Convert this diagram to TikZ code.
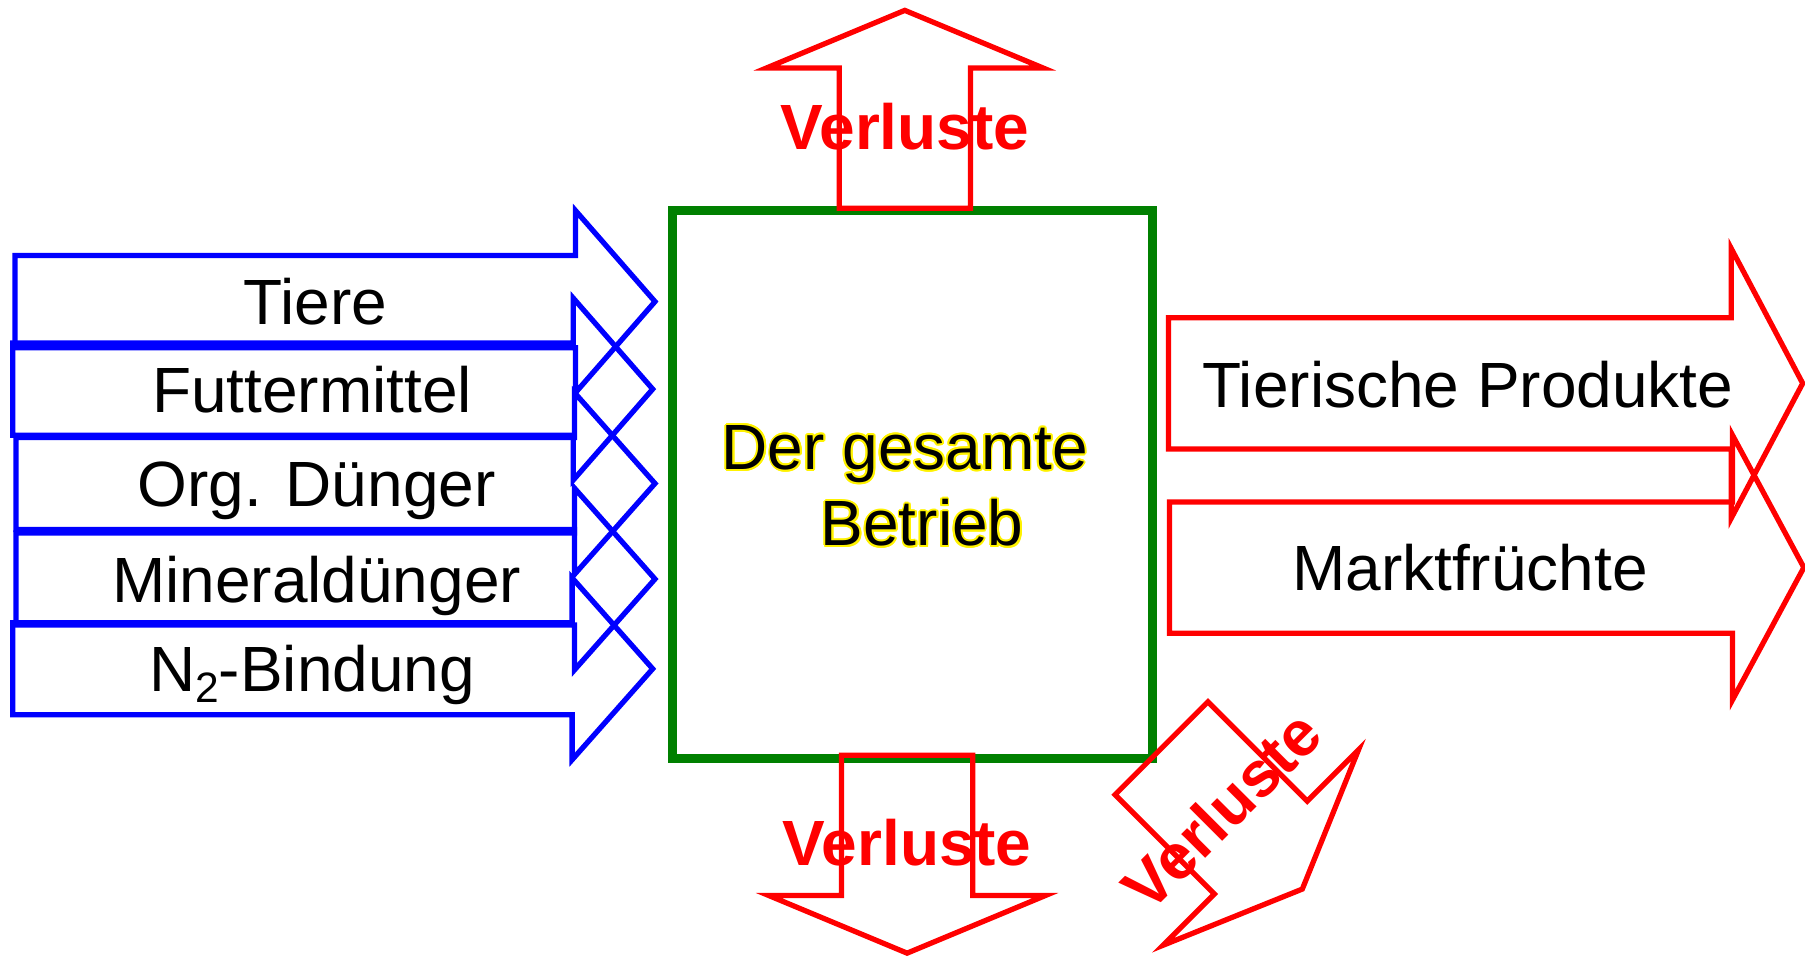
\documentclass[tikz,border=0pt]{standalone}
\usepackage{fontspec}
\setmainfont{Liberation Sans}
\usepackage{contour}
\contourlength{0.45pt}
\definecolor{boxgreen}{RGB}{0,128,0}

% block arrow: style, back-centre point, direction angle, total length,
% half body width, half head width, head length
\newcommand\blockarrow[7]{%
  \draw[#1,shift={#2},rotate=#3]
    (0,-#5) -- ({#4-#7},-#5) -- ({#4-#7},-#6) -- (#4,0)
    -- ({#4-#7},#6) -- ({#4-#7},#5) -- (0,#5) -- cycle;}

\begin{document}
\begin{tikzpicture}[x=0.01cm,y=-0.01cm,
  inflow/.style={draw=blue,line width=1.3pt,line join=miter},
  outflow/.style={draw=red,line width=1.3pt,line join=miter},
  farm/.style={draw=boxgreen,line width=2.3pt},
  lbl/.style={inner sep=0pt,font=\fontsize{15.8pt}{18.8pt}\selectfont},
  loss/.style={inner sep=0pt,text=red,font=\fontsize{15.8pt}{18.8pt}\selectfont\bfseries}]
\useasboundingbox (0,0) rectangle (1568,830);

% the farm as a whole
\draw[farm] (584,183) rectangle (1001,659);
\node[lbl,align=center] (farmtext) at (786,423)
  {\contour{yellow}{Der gesamte}\\\hspace*{0.3cm}\contour{yellow}{Betrieb}};

% inputs
\blockarrow{inflow}{(13,262)}{0}{556}{40}{79}{69}
\blockarrow{inflow}{(11,338)}{0}{556}{40}{79}{69}
\blockarrow{inflow}{(14,420)}{0}{555}{40}{79}{70}
\blockarrow{inflow}{(14,503)}{0}{555}{40}{79}{70}
\blockarrow{inflow}{(11,581)}{0}{556}{40}{79}{70}
\node[lbl,anchor=base] (tiere) at (274,282) {Tiere};
\node[lbl,anchor=base] (futter) at (271,358) {Futtermittel};
\node[lbl,anchor=base] (orgd) at (275,440) {Org. Dünger};
\node[lbl,anchor=base] (mind) at (275,523) {Mineraldünger};
\node[lbl,anchor=base] (nbind) at (271,601)
  {N\raisebox{-0.32ex}{\fontsize{10.5pt}{12pt}\selectfont 2}-Bindung};

% outputs
\blockarrow{outflow}{(1015,333)}{0}{551}{57}{117}{62}
\blockarrow{outflow}{(1016,493)}{0}{551}{57}{115}{62}
\node[lbl,anchor=base] (tier) at (1275,354) {Tierische Produkte};
\node[lbl,anchor=base] (markt) at (1277,513) {Marktfrüchte};

% losses
\blockarrow{outflow}{(786,181)}{90}{172}{57}{120}{50}
\blockarrow{outflow}{(788,656)}{-90}{172}{57}{120}{50}
\blockarrow{outflow}{(1009,650)}{-45}{173}{57}{120}{51}
\node[loss,anchor=base] (lossup) at (786,130) {Verluste};
\node[loss,anchor=base] (lossdown) at (788,752) {Verluste};
\node[loss,rotate=45] (lossdiag) at (1061,704) {Verluste};
\end{tikzpicture}
\end{document}
